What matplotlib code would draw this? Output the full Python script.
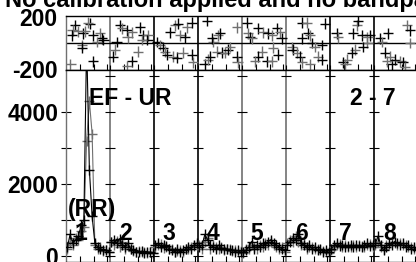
import matplotlib
matplotlib.use("Agg")
import matplotlib.pyplot as plt
import numpy as np

plt.rcParams['font.family'] = ['Liberation Sans', 'DejaVu Sans']
plt.rcParams['font.weight'] = 'bold'

NCH = 16  # channels per IF segment
seg_labels = ['1', '2', '3', '4', '5', '6', '7', '8']
title = "No calibration applied and no bandpass applied"
baseline = "EF - UR"
time_range = "2 - 7"
stokes = "(RR)"

# phase points per segment: (channel, degrees)
phase_ch = [
    [3.3, 2.5, 2.2, 4.4, 6.2, 6.9, 8.7, 8.0, 9.8, 12.4, 13.1, 11.3, 13.5, 5.8, 5.8, 1.5, 9.8],
    [3.6, 4.4, 6.2, 8.0, 10.9, 6.5, 12.0, 13.8, 13.5, 11.6, 2.5, 1.8, 1.1, 10.2, 8.0, 6.2],
    [1.1, 2.2, 3.3, 4.0, 4.7, 6.9, 8.4, 10.5, 13.8, 14.2, 5.8, 7.6, 8.7, 9.5, 11.3, 12.0, 13.8],
    [2.5, 3.6, 4.4, 5.5, 5.1, 7.3, 8.0, 6.9, 8.7, 9.8, 10.9, 11.6, 14.2, 14.5, 3.3, 14.2],
    [1.8, 2.2, 2.9, 3.6, 5.8, 7.6, 9.5, 10.9, 12.7, 13.8, 14.5, 7.3, 5.8, 4.7, 9.1, 11.3, 13.1, 10.9],
    [5.8, 7.6, 8.0, 8.7, 5.8, 2.2, 2.5, 4.0, 5.1, 5.8, 9.5, 10.5, 13.1, 11.6, 13.1, 8.7, 14.2],
    [2.5, 2.9, 8.4, 9.8, 11.6, 13.5, 14.5, 13.5, 12.0, 9.1, 8.0, 6.2, 4.7, 5.5, 10.2],
    [2.2, 2.9, 5.1, 12.0, 13.1, 13.1, 4.0, 5.8, 7.6, 9.5, 10.5, 11.3, 6.5, 4.7],
]
phase_deg = [
    [133, 96, 59, 89, 74, 89, 148, 155, 59, 74, 37, 7, 22, -15, -37, -163, -140],
    [133, 111, 96, 81, 118, 44, 59, 59, 22, 22, 7, -52, -104, -67, -140, -178],
    [7, -15, -37, -67, -89, -104, -111, -74, -89, -148, 81, 133, 148, 59, 44, 118, 155],
    [-163, -126, -104, 7, 37, 59, 74, -67, -74, -74, -52, -30, -104, -148, 170, 118],
    [155, 74, 44, 37, 111, 81, 74, 59, 111, 81, 37, -67, -104, -140, -140, -37, -89, -140],
    [155, 155, 74, 59, 37, -30, -52, -74, -104, -148, 0, -30, -15, -104, -126, -163, 148],
    [74, 44, 74, 133, 59, 44, 59, 0, -30, -52, -74, -126, -148, -163, 170],
    [37, 7, 74, 133, 96, 0, -74, -104, -126, -140, -148, -185, -163, -140],
]

# amplitude per channel, two overlaid series (black / grey)
amp_black = [
    [250, 600, 350, 450, 550, 850, 1000, 6000, 2400, 1100, 350, 250, 200, 150, 170, 120],
    [400, 450, 350, 480, 300, 250, 350, 200, 150, 120, 100, 130, 90, 110, 100, 80],
    [300, 350, 250, 300, 280, 200, 150, 120, 180, 100, 150, 200, 250, 200, 300, 350],
    [250, 300, 600, 450, 300, 250, 200, 300, 220, 180, 200, 150, 170, 120, 150, 100],
    [100, 150, 250, 400, 200, 300, 250, 350, 300, 400, 450, 350, 300, 250, 200, 150],
    [300, 400, 500, 450, 600, 350, 300, 250, 300, 200, 250, 150, 200, 100, 150, 100],
    [200, 300, 350, 280, 300, 250, 280, 300, 250, 300, 280, 250, 300, 350, 280, 300],
    [350, 550, 300, 150, 250, 350, 300, 400, 350, 300, 350, 250, 300, 200, 250, 150],
]
amp_grey = [
    [200, 400, 300, 500, 450, 700, 800, 3200, 4300, 3400, 300, 200, 250, 130, 150, 100],
    [380, 300, 420, 250, 380, 200, 280, 180, 130, 100, 140, 100, 120, 80, 110, 90],
    [250, 300, 320, 220, 250, 180, 200, 100, 130, 150, 120, 180, 200, 250, 280, 300],
    [300, 200, 400, 500, 200, 300, 250, 200, 250, 150, 180, 200, 140, 160, 100, 130],
    [80, 200, 180, 300, 250, 200, 300, 250, 350, 300, 380, 300, 250, 200, 250, 120],
    [350, 450, 400, 550, 400, 300, 350, 200, 250, 250, 200, 180, 150, 130, 100, 80],
    [150, 250, 300, 320, 250, 300, 250, 250, 300, 250, 300, 280, 250, 300, 320, 250],
    [300, 400, 250, 200, 300, 300, 350, 350, 300, 350, 300, 300, 250, 250, 200, 200],
]

nseg = len(seg_labels)
grey = '#707070'
fs = 16.5

fig = plt.figure(figsize=(4.16, 2.62), dpi=100)
W, H = 416.0, 262.0
x0, x1 = 66, 418
axp = fig.add_axes([x0 / W, 1 - 70 / H, (x1 - x0) / W, 54 / H])
axa = fig.add_axes([x0 / W, 0, (x1 - x0) / W, 192 / H])

xmax = nseg * NCH
bounds = np.arange(0, xmax + 1, NCH)
bcolors = [grey, grey, 'black', 'black'] * 3

for ax in (axp, axa):
    ax.set_xlim(0, xmax)
    for s in ax.spines.values():
        s.set_linewidth(1.0)
    ax.spines['left'].set_color(grey)
    for i, b in enumerate(bounds[1:-1], start=1):
        ax.axvline(b, color=bcolors[i], lw=1.2, zorder=1)
    minor = [s * NCH + c for s in range(nseg) for c in (5, 10, 15)]
    ax.set_xticks(minor)
    ax.set_xticklabels([])
    ax.tick_params(axis='x', direction='in', length=4, width=0.8, top=False)

# phase panel
axp.set_ylim(-205, 205)
axp.axhline(0, color='black', lw=1.0)
for s in range(nseg):
    xs = s * NCH + np.array(phase_ch[s])
    ys = np.array(phase_deg[s])
    cols = ['black' if k % 2 == 0 else grey for k in range(len(xs))]
    axp.scatter(xs, ys, marker='+', s=60, c=cols, linewidths=1.0, zorder=3, clip_on=True)
axp.set_yticks([-200, 200])
axp.set_yticklabels(['-200', '200'], fontsize=fs, fontweight='bold')
axp.tick_params(axis='y', direction='in', length=0, pad=6)
bx = bounds[1:-1]
axp.plot(bx, np.full(len(bx), -200), '|', color='black', ms=6, mew=0.8)

# amplitude panel
axa.set_ylim(-170, 5170)
for s in range(nseg):
    xs = s * NCH + np.arange(NCH) + 0.5
    axa.plot(xs, amp_grey[s], color=grey, lw=0.8, marker='+', ms=7, mew=1.0, zorder=2)
    axa.plot(xs, amp_black[s], color='black', lw=0.8, marker='+', ms=7, mew=1.0, zorder=3)
axa.set_yticks([0, 2000, 4000])
axa.set_yticks([1000, 3000], minor=True)
axa.set_yticklabels(['0', '2000', '4000'], fontsize=fs, fontweight='bold')
axa.tick_params(axis='y', which='both', direction='inout', length=7, width=0.8, pad=2)
ylev = np.arange(0, 5001, 1000)
gx, gy = np.meshgrid(bounds[1:-1], ylev)
axa.plot(gx.ravel(), gy.ravel(), '_', color='black', ms=7, mew=0.8, zorder=2)

axa.text(0.065, 0.854, baseline, transform=axa.transAxes, fontsize=fs,
         fontweight='bold', va='center', ha='left')
axa.text(0.807, 0.854, time_range, transform=axa.transAxes, fontsize=fs,
         fontweight='bold', va='center', ha='left')
axa.text(0.006, 0.271, stokes, transform=axa.transAxes, fontsize=fs,
         fontweight='bold', va='center', ha='left')
for s, lab in enumerate(seg_labels):
    axa.text(s * NCH + 5.5, 0.151, lab, transform=axa.get_xaxis_transform(),
             fontsize=fs, fontweight='bold', va='center', ha='center', zorder=4)

fig.text(5 / W, 1 - 7 / H, title, fontsize=17, fontweight='bold',
         va='baseline', ha='left')

fig.savefig('out.png', dpi=100)
